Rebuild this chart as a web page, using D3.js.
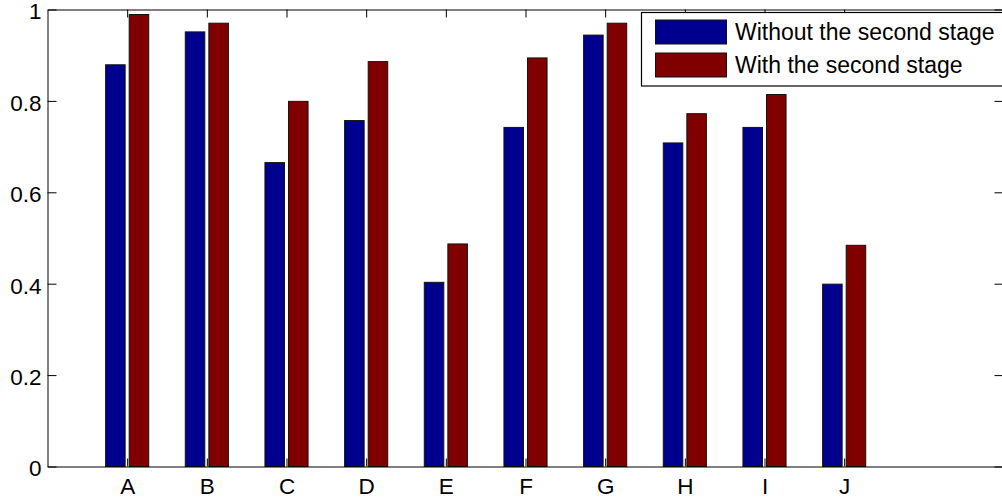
<!DOCTYPE html>
<html>
<head>
<meta charset="utf-8">
<script src="https://cdn.jsdelivr.net/npm/d3@7"></script>
<style>
  html, body { margin: 0; padding: 0; background: #fff; overflow: hidden; }
  text { font-family: "Liberation Sans", Arial, sans-serif; fill: #000; }
</style>
</head>
<body>
<div class="container"></div>
<script>
// data
const categories = ['A', 'B', 'C', 'D', 'E', 'F', 'G', 'H', 'I', 'J'];
const withoutSecond = [0.879, 0.951, 0.665, 0.757, 0.403, 0.742, 0.944, 0.708, 0.742, 0.399];
const withSecond = [0.989, 0.970, 0.799, 0.886, 0.487, 0.894, 0.970, 0.772, 0.814, 0.484];
const yTicks = [0, 0.2, 0.4, 0.6, 0.8, 1];
const seriesNames = ['Without the second stage', 'With the second stage'];
const seriesColors = ['#00008f', '#800000'];

const W = 1002, H = 499;

const svg = d3.select('.container')
  .append('svg')
  .attr('width', W)
  .attr('height', H);

svg.append('rect').attr('width', W).attr('height', H).attr('fill', '#fff');

// x goes 0..12 like matlab, categories sit on 1..10
const x = d3.scaleLinear().domain([0, 12]).range([47.5, 1003.5]);
const y = d3.scaleLinear().domain([0, 1]).range([466.5, 9.5]);

const offset = 0.148;  // half distance between the two bars of a group
const bw = 0.245;      // bar width in x units

const series = [withoutSecond, withSecond];
series.forEach(function(vals, s) {
  const dx = s === 0 ? -offset : offset;
  svg.append('g')
    .selectAll('rect')
    .data(vals)
    .join('rect')
    .attr('x', (d, i) => x(i + 1 + dx - bw / 2))
    .attr('width', x(bw) - x(0))
    .attr('y', d => y(d))
    .attr('height', d => y(0) - y(d))
    .attr('fill', seriesColors[s])
    .attr('stroke', '#111')
    .attr('stroke-width', 1);
});

// axes: ticks point inward on all four sides
const xt = categories.map((c, i) => i + 1);
const fontSize = '22.5px';

svg.append('g')
  .attr('transform', `translate(0,${y(0)})`)
  .call(d3.axisBottom(x).tickValues(xt).tickFormat((d, i) => categories[i]).tickSizeInner(-8).tickSizeOuter(0).tickPadding(12));

svg.append('g')
  .attr('transform', `translate(0,${y(1)})`)
  .call(d3.axisTop(x).tickValues(xt).tickFormat('').tickSizeInner(-8).tickSizeOuter(0));

svg.append('g')
  .attr('transform', `translate(${x(0)},0)`)
  .call(d3.axisLeft(y).tickValues(yTicks).tickFormat(d3.format('')).tickSizeInner(-9).tickSizeOuter(0).tickPadding(6))
  .call(g => g.selectAll('.tick text').attr('dy', '0.42em'));

svg.append('g')
  .attr('transform', `translate(${x(12)},0)`)
  .call(d3.axisRight(y).tickValues(yTicks).tickFormat('').tickSizeInner(-9).tickSizeOuter(0));

svg.selectAll('.tick text')
  .style('font-size', fontSize)
  .style('font-family', '"Liberation Sans", Arial, sans-serif');
svg.selectAll('.domain, .tick line').attr('stroke', '#000');

// legend
const lg = svg.append('g');
lg.append('rect')
  .attr('x', 641.5).attr('y', 12.5)
  .attr('width', 380).attr('height', 73.5)
  .attr('fill', '#fff')
  .attr('stroke', '#000')
  .attr('stroke-width', 1.2);

seriesNames.forEach(function(name, i) {
  const cy = 32 + i * 33;
  lg.append('rect')
    .attr('x', 655.5).attr('y', cy - 12)
    .attr('width', 71).attr('height', 24)
    .attr('fill', seriesColors[i])
    .attr('stroke', '#111');
  lg.append('text')
    .attr('x', 735).attr('y', cy + 7.5)
    .style('font-size', '23px')
    .text(name);
});
</script>
</body>
</html>
